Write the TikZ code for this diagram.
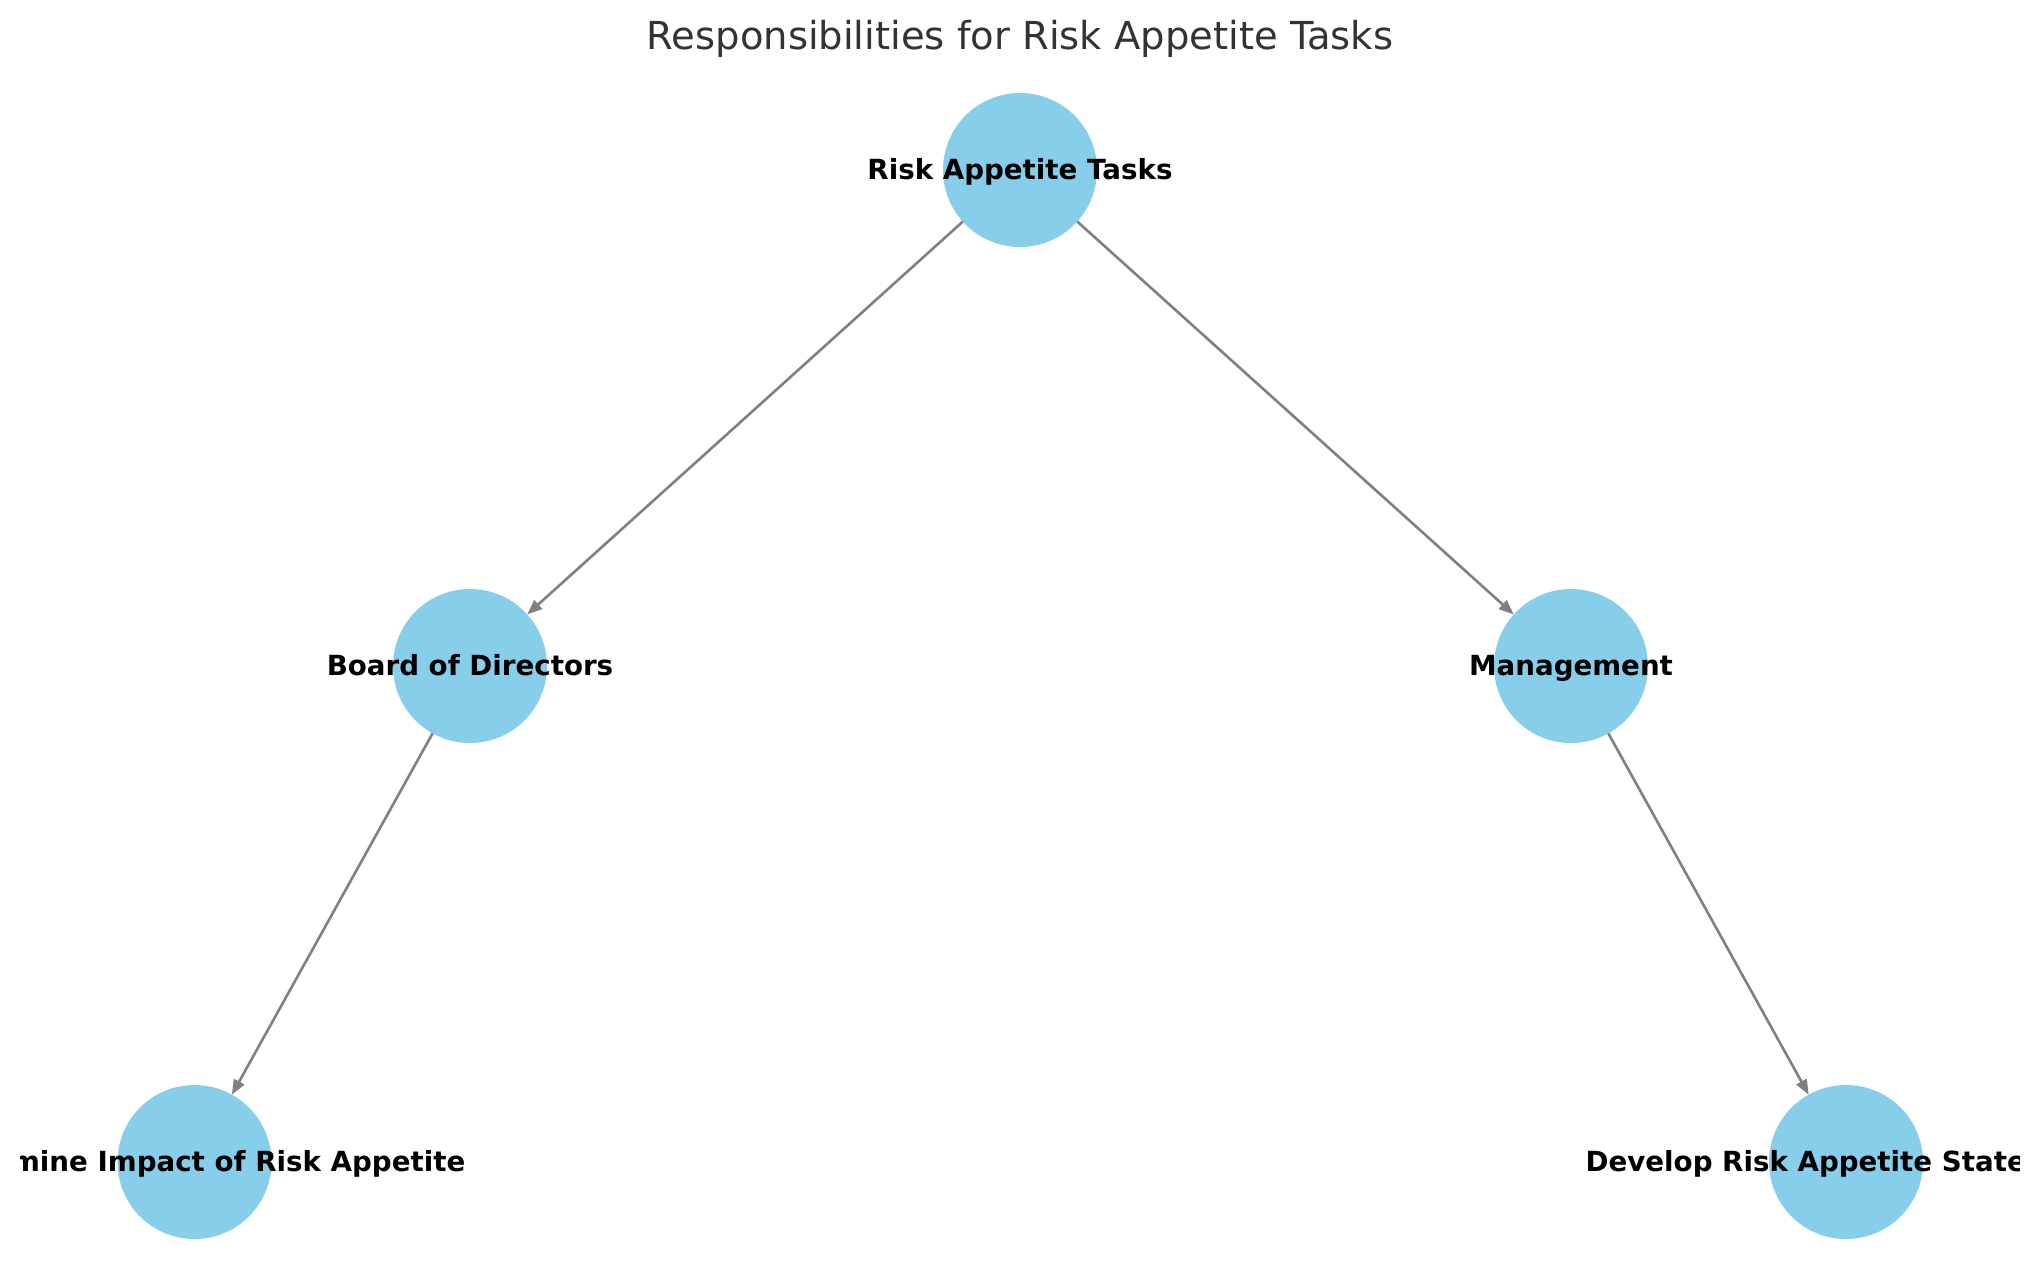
\documentclass[tikz,border=0pt]{standalone}
\usepackage{fontspec}
\setmainfont{DejaVu Sans}
\usetikzlibrary{arrows.meta}
\definecolor{skyblue}{HTML}{87CEEB}
\definecolor{edgegray}{HTML}{808080}
\definecolor{titlegray}{HTML}{333333}
\begin{document}
\begin{tikzpicture}[x=1pt,y=-1pt,
  task/.style={circle,fill=skyblue,minimum size=154pt,inner sep=0pt,outer sep=0pt},
  lbl/.style={anchor=base,inner sep=0pt,font=\fontsize{27.7}{33}\selectfont\bfseries},
  conn/.style={draw=edgegray,line width=2.6pt,-{Triangle[length=15pt,width=11.5pt]}}]
\path[use as bounding box,fill=white] (0,0) rectangle (2039,1286);
\node[task] (root) at (1020,170) {};
\node[task] (board) at (470,666) {};
\node[task] (mgmt) at (1571,666) {};
\node[task] (impact) at (194.5,1162) {};
\node[task] (develop) at (1846,1162) {};
\draw[conn] (root) -- (board);
\draw[conn] (root) -- (mgmt);
\draw[conn] (board) -- (impact);
\draw[conn] (mgmt) -- (develop);
\begin{scope}
\clip (20,0) rectangle (2019,1286);
\node[lbl] (lroot) at (1020,179) {Risk Appetite Tasks};
\node[lbl] (lboard) at (470,675) {Board of Directors};
\node[lbl] (lmgmt) at (1571,675) {Management};
\node[lbl] (limpact) at (194.5,1171) {Determine Impact of Risk Appetite};
\node[lbl] (ldevelop) at (1846,1171) {Develop Risk Appetite Statement};
\end{scope}
\node[anchor=base,inner sep=0pt,text=titlegray,font=\fontsize{38.5}{46}\selectfont] (title) at (1020,49.5) {Responsibilities for Risk Appetite Tasks};
\end{tikzpicture}
\end{document}
